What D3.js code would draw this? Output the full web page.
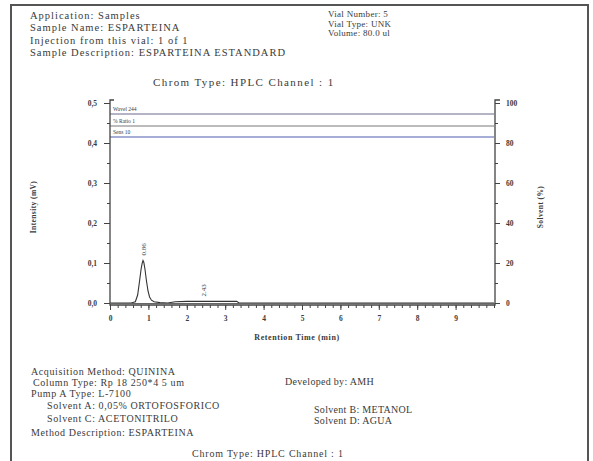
<!DOCTYPE html>
<html><head><meta charset="utf-8">
<script src="https://cdn.jsdelivr.net/npm/d3@7/dist/d3.min.js"></script>
<style>
body{margin:0;background:#fff}
svg{display:block}
text{font-family:"Liberation Serif","DejaVu Serif",serif;fill:#3a3a3a}
</style>
</head><body>
<svg id="c" width="593" height="461"></svg>
<script>
// ---- data ----
const retentionTime = [0, 0.3, 0.55, 0.66, 0.72, 0.77, 0.81, 0.84, 0.86, 0.88, 0.91, 0.95, 0.99, 1.03, 1.08, 1.15, 1.3, 1.5, 1.7, 2.0, 2.5, 3.0, 3.3, 3.36, 5, 10];
const intensity     = [0, 0, 0, 0.003, 0.02, 0.055, 0.085, 0.1, 0.106, 0.102, 0.085, 0.055, 0.03, 0.015, 0.007, 0.003, 0.001, 0, 0.003, 0.004, 0.004, 0.004, 0.004, 0, 0, 0];
const baselineSpan = [0.65, 3.3];
const peakTimes  = [0.86, 2.43];
const peakTops   = [0.106, 0.004];
const peakLabels = ["0.86", "2.43"];
const yTicks = [0, 0.1, 0.2, 0.3, 0.4, 0.5];
const yTickLabels = ["0,0", "0,1", "0,2", "0,3", "0,4", "0,5"];
const xTicks = [0, 1, 2, 3, 4, 5, 6, 7, 8, 9];
const xTickLabels = ["0", "1", "2", "3", "4", "5", "6", "7", "8", "9"];
const rightTicks = [0, 20, 40, 60, 80, 100];
const rightTickLabels = ["0", "20", "40", "60", "80", "100"];
const traceLevels = [94.5, 88.5, 83];
const traceLabels = ["Wavel 244", "% Ratio 1", "Sens 10"];
const headerLeft = ["Application: Samples", "Sample Name: ESPARTEINA", "Injection from this vial: 1 of 1", "Sample Description: ESPARTEINA ESTANDARD"];
const headerRight = ["Vial Number: 5", "Vial Type: UNK", "Volume: 80.0 ul"];
const chartTitle = "Chrom Type: HPLC Channel : 1";
const xTitle = "Retention Time (min)";
const yTitle = "Intensity (mV)";
const yRightTitle = "Solvent (%)";
const footerLeft = ["Acquisition Method: QUININA", "Column Type: Rp 18 250*4 5 um", "Pump A Type: L-7100", "Solvent A: 0,05% ORTOFOSFORICO", "Solvent C: ACETONITRILO", "Method Description: ESPARTEINA"];
const footerRight = ["Developed by: AMH", "Solvent B: METANOL", "Solvent D: AGUA"];

// ---- drawing ----
const svg = d3.select("#c");
svg.append("rect").attr("width",593).attr("height",461).attr("fill","#fff");
// page frame
svg.append("path").attr("d","M11,470 V5 H588 V470").attr("fill","none").attr("stroke","#555").attr("stroke-width",2);

const x = d3.scaleLinear().domain([0,10]).range([110,494]);
const y = d3.scaleLinear().domain([0,0.5]).range([303,103]);
const yR = d3.scaleLinear().domain([0,100]).range([303,103]);

// header
const hL = [15,27.5,40,52.5];
svg.selectAll("text.hl").data(headerLeft).join("text").attr("class","hl")
  .attr("x",30).attr("y",(d,i)=>hL[i]+3.5).attr("font-size",10.5).attr("letter-spacing",1).text(d=>d);
svg.selectAll("text.hr").data(headerRight).join("text").attr("class","hr")
  .attr("x",328).attr("y",(d,i)=>14+i*9.7+3).attr("font-size",9).attr("letter-spacing",0.3).text(d=>d);
svg.append("text").attr("x",153).attr("y",86).attr("font-size",11)
  .attr("letter-spacing",1.4).text(chartTitle);

// trace lines (right-axis units)
const tcol = ["#6b6b8c","#7a7a7a","#4e5fb0"];
const g = svg.append("g");
traceLevels.forEach((v,i)=>{
  g.append("line").attr("x1",x(0)).attr("x2",x(10)).attr("y1",yR(v)).attr("y2",yR(v))
    .attr("stroke",tcol[i]).attr("stroke-width",1.2);
  g.append("text").attr("x",x(0)+3).attr("y",yR(v)-3).attr("font-size",5.5).attr("fill","#555").text(traceLabels[i]);
});

// baseline (red dashed)
g.append("line").attr("x1",x(baselineSpan[0])).attr("x2",x(baselineSpan[1])).attr("y1",y(0)+0.5).attr("y2",y(0)+0.5)
  .attr("stroke","#e0826e").attr("stroke-width",1).attr("stroke-dasharray","3,2");

// chromatogram
const line = d3.line().x((d,i)=>x(retentionTime[i])).y(d=>y(d));
g.append("path").attr("d",line(intensity)).attr("fill","none").attr("stroke","#333").attr("stroke-width",1.1);

// peak labels
peakTimes.forEach((t,i)=>{
  g.append("text").attr("transform",`translate(${x(t)+2.5},${y(peakTops[i])-5}) rotate(-90)`)
    .attr("font-size",7).attr("fill","#556").text(peakLabels[i]);
});

// axes
function styleAxis(sel){
  sel.selectAll("path.domain").remove();
  sel.selectAll("line").attr("stroke","#444");
  sel.selectAll("text").attr("font-size",7.5).attr("fill","#333").attr("font-weight","bold");
}
const yMinor = d3.range(0,0.5001,0.05);
svg.append("g").attr("transform","translate(110,0)")
  .call(d3.axisLeft(y).tickValues(yMinor).tickSize(3).tickFormat(""))
  .call(styleAxis);
svg.append("g").attr("transform","translate(110,0)")
  .call(d3.axisLeft(y).tickValues(yTicks).tickSize(6).tickPadding(7).tickFormat((d,i)=>yTickLabels[i]))
  .call(styleAxis);
const rMinor = d3.range(0,100.01,10);
svg.append("g").attr("transform","translate(495,0)")
  .call(d3.axisRight(yR).tickValues(rMinor).tickSize(3).tickFormat(""))
  .call(styleAxis);
svg.append("g").attr("transform","translate(495,0)")
  .call(d3.axisRight(yR).tickValues(rightTicks).tickSize(5).tickPadding(6).tickFormat((d,i)=>rightTickLabels[i]))
  .call(styleAxis);
const xMinor = d3.range(0,10.001,0.2);
svg.append("g").attr("transform","translate(0,305)")
  .call(d3.axisBottom(x).tickValues(xMinor).tickSize(3).tickFormat(""))
  .call(styleAxis);
svg.append("g").attr("transform","translate(0,305)")
  .call(d3.axisBottom(x).tickValues(xTicks).tickSize(5).tickPadding(6).tickFormat((d,i)=>xTickLabels[i]))
  .call(styleAxis);
// axis lines
svg.append("path").attr("d","M114,100 H110 V305 H495 V100 H500").attr("fill","none").attr("stroke","#444").attr("stroke-width",1.3);
svg.append("line").attr("x1",110).attr("x2",495).attr("y1",303.5).attr("y2",303.5).attr("stroke","#666").attr("stroke-width",1);

// axis titles
svg.append("text").attr("x",297).attr("y",340).attr("text-anchor","middle").attr("font-size",8).attr("letter-spacing",0.6).attr("font-weight","bold").text(xTitle);
svg.append("text").attr("transform","translate(36,207) rotate(-90)").attr("text-anchor","middle").attr("font-size",7.5).attr("letter-spacing",0.4).attr("font-weight","bold").text(yTitle);
svg.append("text").attr("transform","translate(543,207) rotate(-90)").attr("text-anchor","middle").attr("font-size",7.5).attr("letter-spacing",0.4).attr("font-weight","bold").text(yRightTitle);

// footer
const fL = [[31,371],[33,382],[31,393],[47,405],[47,418],[31,432]];
svg.selectAll("text.fl").data(footerLeft).join("text").attr("class","fl")
  .attr("x",(d,i)=>fL[i][0]).attr("y",(d,i)=>fL[i][1]+3.5).attr("font-size",10).attr("letter-spacing",0.6).text(d=>d);
const fR = [[285,381],[314,409],[314,420]];
svg.selectAll("text.fr").data(footerRight).join("text").attr("class","fr")
  .attr("x",(d,i)=>fR[i][0]).attr("y",(d,i)=>fR[i][1]+3.5).attr("font-size",10).attr("letter-spacing",0.3).text(d=>d);
svg.append("text").attr("x",192).attr("y",457).attr("font-size",10).attr("letter-spacing",0.8).text(chartTitle);
</script>
</body></html>
